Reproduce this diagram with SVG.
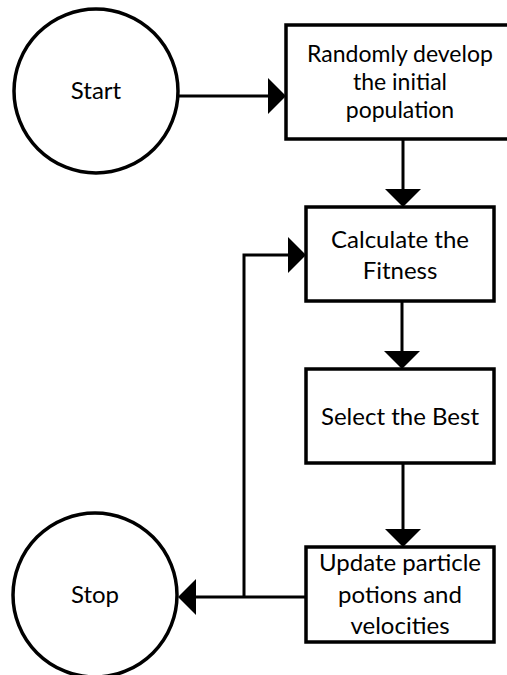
<svg xmlns="http://www.w3.org/2000/svg" width="507" height="675" viewBox="0 0 507 675">
  <style>
    .node { fill: #ffffff; stroke: #000000; stroke-width: 3.5; }
    .conn { fill: none; stroke: #000000; stroke-width: 3; }
    .lbl { font-family: Lato, "Liberation Sans", Arial, sans-serif; font-size: 24px; fill: #000000; text-anchor: middle; }
    .tight { font-size: 23px; }
  </style>
  <defs>
    <marker id="ah" viewBox="0 0 18 36" refX="0" refY="18" markerWidth="18" markerHeight="36" markerUnits="userSpaceOnUse" orient="auto">
      <path d="M0,0 L18,18 L0,36 Z" fill="#000000"/>
    </marker>
  </defs>
  <rect width="507" height="675" fill="#ffffff"/>

  <g id="start">
    <circle class="node" cx="96" cy="91" r="82"/>
    <text class="lbl" x="96" y="99">Start</text>
  </g>
  <g id="init">
    <rect class="node" x="286" y="25" width="226" height="114"/>
    <text class="lbl tight" x="400" y="62">Randomly develop</text>
    <text class="lbl tight" x="400" y="90">the initial</text>
    <text class="lbl tight" x="400" y="118">population</text>
  </g>
  <g id="fitness">
    <rect class="node" x="306" y="207" width="188" height="94"/>
    <text class="lbl" x="400" y="248">Calculate the</text>
    <text class="lbl" x="400" y="279">Fitness</text>
  </g>
  <g id="select">
    <rect class="node" x="306" y="369" width="188" height="94"/>
    <text class="lbl" x="400" y="425">Select the Best</text>
  </g>
  <g id="update">
    <rect class="node" x="306" y="547" width="188" height="95"/>
    <text class="lbl" x="400" y="571">Update particle</text>
    <text class="lbl" x="400" y="603">potions and</text>
    <text class="lbl" x="400" y="634">velocities</text>
  </g>
  <g id="stop">
    <circle class="node" cx="95" cy="595" r="82"/>
    <text class="lbl" x="95" y="603">Stop</text>
  </g>

  <g id="connectors">
    <path class="conn" d="M178,96 L268,96" marker-end="url(#ah)"/>
    <path class="conn" d="M403,139 L403,189" marker-end="url(#ah)"/>
    <path class="conn" d="M402,301 L402,351" marker-end="url(#ah)"/>
    <path class="conn" d="M403,463 L403,529" marker-end="url(#ah)"/>
    <path class="conn" d="M306,597 L196,597" marker-end="url(#ah)"/>
    <path class="conn" d="M244,597 L244,255 L288,255" marker-end="url(#ah)"/>
  </g>
</svg>
